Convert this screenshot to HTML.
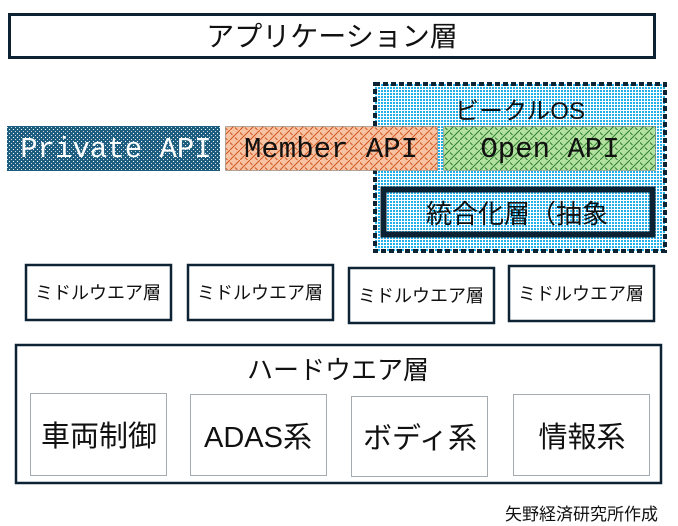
<!DOCTYPE html>
<html><head><meta charset="utf-8"><style>
html,body{margin:0;padding:0;background:#fff;width:678px;height:526px;overflow:hidden}
svg{display:block}
.jp{font-family:"Liberation Sans","Noto Sans CJK JP",sans-serif}
.mono{font-family:"Liberation Mono",monospace}
</style></head><body>
<svg width="678" height="526" viewBox="0 0 678 526" xmlns="http://www.w3.org/2000/svg">
<defs>
<pattern id="cy" width="3" height="3" patternUnits="userSpaceOnUse">
<rect width="3" height="3" fill="#ffffff"/><rect width="2" height="2" fill="#22b0ea"/></pattern>
<pattern id="pv" width="4" height="4" patternUnits="userSpaceOnUse">
<rect width="4" height="4" fill="#1d5e80"/><rect x="1" y="1" width="1" height="1" fill="#ffffff"/><rect x="3" y="3" width="1" height="1" fill="#c8dde8"/></pattern>
<pattern id="mb" width="10" height="10" patternUnits="userSpaceOnUse">
<rect width="10" height="10" fill="#f8c3a3"/><path d="M0 10L10 0M5 7.5l2.5 2.5M0 2.5L2.5 5" stroke="#d2561e" stroke-width="1" fill="none"/></pattern>
<pattern id="op" width="10" height="10" patternUnits="userSpaceOnUse">
<rect width="10" height="10" fill="#b3e2a0"/><path d="M0 10L10 0M5 7.5l2.5 2.5M0 2.5L2.5 5" stroke="#2e7d2e" stroke-width="1" fill="none"/></pattern>
</defs>
<!-- app layer -->
<rect x="9.5" y="14.5" width="645" height="43" fill="#fff" stroke="#0d2233" stroke-width="3"/>
<text x="332" y="46" text-anchor="middle" font-size="28" class="jp" fill="#111">アプリケーション層</text>
<!-- vehicle OS -->
<rect x="375" y="84" width="290" height="167" fill="url(#cy)" stroke="#0d2233" stroke-width="4" stroke-dasharray="5 3"/>
<text x="520" y="119" text-anchor="middle" font-size="24" class="jp" fill="#111">ビークルOS</text>
<!-- APIs -->
<rect x="7" y="126" width="213" height="45" fill="url(#pv)"/>
<text x="116" y="157" text-anchor="middle" font-size="29" class="mono" fill="#fff">Private API</text>
<rect x="225.5" y="126.5" width="212" height="44" fill="url(#mb)" stroke="#666" stroke-width="1" stroke-dasharray="1 1"/>
<text x="331" y="157" text-anchor="middle" font-size="29" class="mono" fill="#111">Member API</text>
<rect x="443.5" y="126.5" width="212" height="44" fill="url(#op)" stroke="#666" stroke-width="1" stroke-dasharray="1 1"/>
<text x="550" y="157" text-anchor="middle" font-size="29" class="mono" fill="#111">Open API</text>
<!-- integrated -->
<rect x="383.5" y="189.5" width="269" height="45" fill="none" stroke="#0d2233" stroke-width="6"/>
<text x="517" y="223" text-anchor="middle" font-size="26" class="jp" fill="#111">統合化層（抽象</text>
<!-- middleware -->
<g fill="#fff" stroke="#0d2233" stroke-width="2.5">
<rect x="26" y="265" width="145" height="55"/>
<rect x="188" y="265" width="145" height="55"/>
<rect x="349" y="268" width="145" height="55"/>
<rect x="509" y="266" width="145" height="55"/>
</g>
<g font-size="18" class="jp" fill="#111" text-anchor="middle">
<text x="98" y="299">ミドルウエア層</text>
<text x="260" y="299">ミドルウエア層</text>
<text x="421" y="302">ミドルウエア層</text>
<text x="581" y="300">ミドルウエア層</text>
</g>
<!-- hardware -->
<rect x="16" y="345" width="645" height="138" fill="#fff" stroke="#0d2233" stroke-width="2.5"/>
<text x="338" y="379" text-anchor="middle" font-size="26" class="jp" fill="#111">ハードウエア層</text>
<g fill="#fff" stroke="#4a5a66" stroke-width="1" stroke-dasharray="1 1">
<rect x="30.5" y="393.5" width="136" height="82"/>
<rect x="190.5" y="394.5" width="136" height="81"/>
<rect x="351.5" y="396.5" width="136" height="80"/>
<rect x="513.5" y="394.5" width="136" height="81"/>
</g>
<g font-size="29" class="jp" fill="#111" text-anchor="middle">
<text x="99" y="446">車両制御</text>
<text x="258" y="447">ADAS系</text>
<text x="420" y="448">ボディ系</text>
<text x="582" y="447">情報系</text>
</g>
<text x="658" y="520" text-anchor="end" font-size="17" class="jp" fill="#111">矢野経済研究所作成</text>
</svg>
</body></html>
